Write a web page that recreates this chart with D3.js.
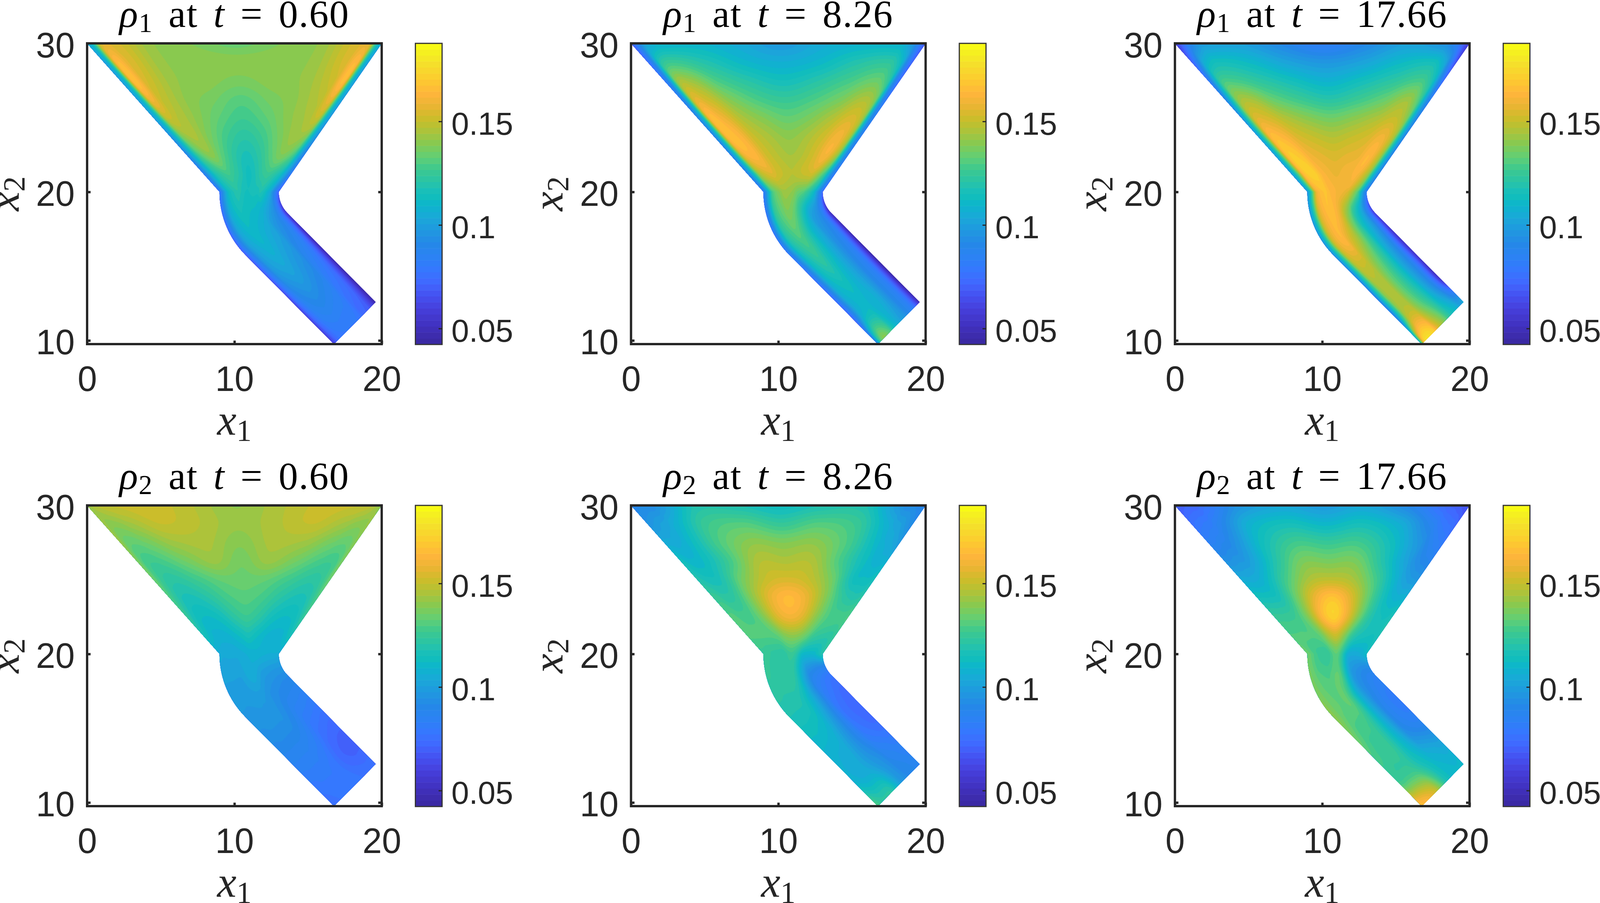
<!DOCTYPE html>
<html>
<head>
<meta charset="utf-8">
<script src="https://cdnjs.cloudflare.com/ajax/libs/d3/7.8.5/d3.min.js"></script>
<style>
  html, body { margin: 0; padding: 0; background: #fff; overflow: hidden; }
  svg { display: block; width: 100vw; height: 100vh; }
</style>
</head>
<body>
<svg id="chart" viewBox="0 0 4133 2312" preserveAspectRatio="none"></svg>
<script>
// Density, one row per station along the channel
// (funnel y = 30 .. 20, bend, straight outlet) and one column per position across it.
const stations = [0, .12, .25, .38, .5, .62, .75, .88, 1, 1.5, 2, 2.25, 2.5, 2.75, 3];
const wallDistance = [0, .25, .6, 1.2];
const innerFraction = [.15, .33, .5, .67, .85];

const rho1T060 = [
  [.105,.115,.152,.155,.142,.138,.134,.138,.142,.155,.154,.118,.105],
  [.100,.115,.162,.156,.142,.141,.140,.141,.142,.155,.162,.116,.100],
  [.100,.115,.165,.154,.142,.140,.137,.140,.142,.152,.164,.116,.100],
  [.100,.115,.158,.150,.141,.136,.131,.136,.141,.148,.156,.114,.100],
  [.100,.113,.148,.147,.140,.132,.127,.132,.140,.145,.148,.112,.098],
  [.095,.110,.138,.145,.137,.127,.122,.127,.137,.143,.138,.108,.095],
  [.090,.106,.128,.140,.132,.122,.117,.122,.132,.138,.128,.103,.088],
  [.085,.100,.118,.127,.124,.119,.114,.118,.124,.125,.115,.098,.082],
  [.078,.095,.112,.120,.118,.115,.115,.116,.116,.118,.105,.086,.072],
  [.074,.090,.105,.113,.113,.112,.111,.110,.108,.105,.095,.080,.062],
  [.070,.085,.100,.108,.110,.108,.106,.104,.102,.097,.089,.074,.055],
  [.068,.082,.097,.103,.104,.102,.100,.098,.096,.090,.083,.068,.050],
  [.064,.078,.090,.096,.097,.096,.094,.092,.090,.084,.077,.064,.048],
  [.062,.074,.084,.088,.088,.087,.086,.085,.083,.078,.073,.061,.046],
  [.060,.070,.078,.080,.080,.080,.080,.080,.078,.073,.069,.058,.046]
];
const rho1T826 = [
  [.070,.085,.100,.108,.110,.105,.098,.105,.109,.108,.095,.080,.068],
  [.075,.090,.118,.125,.119,.110,.106,.110,.119,.122,.110,.085,.072],
  [.080,.098,.140,.143,.129,.120,.115,.120,.128,.134,.122,.090,.075],
  [.085,.105,.153,.153,.139,.129,.125,.129,.137,.146,.136,.095,.080],
  [.090,.110,.162,.160,.146,.138,.133,.137,.146,.154,.143,.100,.085],
  [.090,.112,.162,.164,.151,.144,.140,.144,.152,.160,.145,.102,.085],
  [.090,.112,.156,.163,.153,.147,.144,.147,.154,.161,.142,.102,.085],
  [.088,.108,.144,.155,.152,.149,.147,.149,.151,.150,.127,.098,.082],
  [.082,.100,.128,.140,.143,.142,.140,.135,.132,.128,.112,.092,.075],
  [.080,.098,.122,.133,.136,.134,.128,.120,.112,.105,.095,.080,.060],
  [.080,.096,.116,.127,.128,.123,.117,.110,.105,.098,.089,.071,.052],
  [.078,.092,.111,.121,.120,.115,.111,.105,.100,.094,.084,.066,.048],
  [.075,.090,.107,.113,.113,.110,.107,.103,.098,.092,.082,.064,.046],
  [.074,.092,.108,.112,.110,.108,.107,.104,.098,.092,.082,.064,.046],
  [.090,.125,.140,.130,.118,.110,.105,.100,.097,.092,.082,.066,.050]
];
const rho1T1766 = [
  [.060,.070,.085,.098,.101,.091,.082,.091,.101,.094,.082,.068,.058],
  [.070,.085,.105,.114,.111,.101,.096,.101,.111,.114,.102,.080,.065],
  [.080,.100,.125,.128,.122,.114,.108,.114,.122,.128,.116,.092,.075],
  [.090,.110,.140,.145,.134,.126,.121,.126,.134,.143,.128,.100,.085],
  [.095,.118,.152,.154,.146,.139,.135,.139,.145,.150,.138,.105,.090],
  [.100,.122,.162,.163,.154,.149,.146,.149,.153,.159,.145,.110,.090],
  [.100,.122,.166,.169,.160,.156,.154,.156,.158,.164,.145,.110,.090],
  [.100,.122,.165,.171,.164,.160,.158,.160,.161,.162,.143,.108,.090],
  [.098,.120,.158,.168,.165,.163,.161,.160,.157,.152,.130,.100,.085],
  [.098,.118,.152,.165,.166,.162,.155,.145,.136,.125,.105,.085,.068],
  [.095,.118,.152,.163,.157,.151,.145,.136,.126,.115,.098,.078,.060],
  [.090,.115,.146,.149,.144,.138,.132,.125,.117,.107,.090,.070,.055],
  [.090,.115,.142,.145,.139,.132,.127,.120,.113,.104,.088,.070,.054],
  [.090,.118,.146,.149,.142,.135,.129,.123,.116,.107,.090,.072,.056],
  [.120,.170,.178,.172,.160,.150,.143,.135,.125,.118,.108,.100,.105]
];
const rho2T060 = [
  [.143,.145,.148,.150,.152,.147,.141,.146,.151,.150,.148,.144,.140],
  [.143,.140,.140,.143,.150,.147,.142,.146,.150,.143,.140,.140,.142],
  [.142,.135,.133,.135,.143,.145,.139,.145,.143,.135,.133,.135,.140],
  [.138,.130,.127,.128,.135,.142,.136,.142,.135,.128,.127,.130,.138],
  [.135,.128,.123,.122,.127,.133,.134,.133,.127,.122,.123,.128,.135],
  [.130,.124,.118,.117,.121,.128,.131,.128,.121,.117,.118,.124,.130],
  [.125,.118,.113,.112,.115,.122,.126,.122,.115,.112,.113,.118,.125],
  [.116,.112,.108,.108,.110,.113,.116,.113,.110,.108,.108,.112,.116],
  [.105,.104,.104,.104,.105,.106,.107,.108,.108,.107,.106,.106,.105],
  [.100,.100,.100,.100,.102,.104,.105,.103,.100,.099,.098,.098,.098],
  [.097,.097,.097,.098,.098,.098,.097,.095,.094,.093,.092,.092,.092],
  [.093,.093,.094,.094,.094,.094,.092,.090,.087,.085,.084,.083,.083],
  [.087,.087,.087,.087,.087,.086,.085,.083,.080,.077,.075,.074,.074],
  [.080,.080,.081,.081,.081,.080,.079,.077,.074,.072,.070,.070,.070],
  [.075,.076,.077,.078,.078,.079,.079,.079,.078,.077,.076,.076,.077]
];
const rho2T826 = [
  [.090,.091,.092,.095,.118,.118,.113,.118,.118,.095,.092,.090,.088],
  [.095,.097,.100,.105,.125,.130,.124,.130,.125,.105,.100,.095,.092],
  [.105,.105,.105,.110,.128,.140,.138,.140,.128,.110,.105,.102,.098],
  [.115,.112,.110,.113,.127,.146,.146,.146,.128,.113,.108,.108,.108],
  [.120,.118,.116,.118,.135,.150,.154,.150,.135,.115,.113,.113,.116],
  [.125,.125,.122,.125,.140,.158,.165,.158,.140,.125,.120,.120,.122],
  [.130,.130,.128,.130,.140,.155,.160,.155,.140,.130,.128,.128,.130],
  [.130,.130,.130,.130,.132,.138,.140,.138,.132,.125,.122,.122,.125],
  [.125,.125,.123,.122,.122,.125,.125,.120,.112,.110,.110,.115,.120],
  [.123,.123,.122,.122,.123,.122,.117,.108,.100,.093,.090,.090,.090],
  [.118,.118,.118,.118,.116,.112,.107,.100,.092,.085,.080,.078,.078],
  [.112,.112,.112,.110,.108,.103,.098,.092,.085,.078,.074,.072,.072],
  [.108,.107,.106,.105,.102,.098,.094,.090,.085,.080,.076,.074,.074],
  [.110,.108,.106,.105,.103,.100,.097,.095,.092,.088,.085,.083,.083],
  [.130,.125,.122,.122,.120,.113,.105,.098,.095,.092,.090,.088,.087]
];
const rho2T1766 = [
  [.068,.070,.072,.075,.095,.103,.098,.103,.090,.073,.070,.067,.065],
  [.075,.078,.080,.085,.107,.115,.110,.115,.105,.085,.078,.076,.072],
  [.085,.085,.088,.093,.113,.127,.125,.127,.113,.095,.086,.083,.080],
  [.095,.095,.097,.100,.118,.137,.137,.137,.118,.100,.092,.090,.088],
  [.105,.105,.105,.110,.127,.145,.149,.145,.127,.108,.100,.098,.097],
  [.115,.115,.115,.118,.135,.158,.168,.156,.133,.115,.108,.108,.108],
  [.125,.125,.125,.128,.140,.163,.172,.158,.135,.120,.115,.115,.118],
  [.130,.130,.130,.130,.134,.145,.150,.140,.125,.118,.115,.115,.118],
  [.135,.132,.127,.125,.125,.130,.132,.125,.112,.105,.105,.108,.112],
  [.137,.135,.132,.130,.132,.133,.130,.118,.105,.097,.093,.093,.095],
  [.140,.137,.133,.132,.133,.128,.118,.108,.100,.094,.088,.086,.086],
  [.135,.132,.128,.127,.125,.120,.113,.105,.098,.090,.084,.082,.082],
  [.128,.127,.125,.125,.123,.118,.112,.107,.100,.093,.088,.086,.086],
  [.128,.127,.127,.126,.124,.120,.116,.113,.110,.107,.104,.102,.102],
  [.168,.165,.162,.155,.150,.140,.130,.120,.115,.112,.110,.110,.112]
];

const fields = [rho1T060, rho1T826, rho1T1766, rho2T060, rho2T826, rho2T1766];
const species = ["1", "1", "1", "2", "2", "2"];
const times = ["0.60", "8.26", "17.66", "0.60", "8.26", "17.66"];

const xTicks = [0, 10, 20];
const yTicks = [10, 20, 30];
const barTicks = [0.05, 0.1, 0.15];
const clim = [0.0423, 0.1877];
const nLevels = 50;

// colours sampled from the colour bar, low to high
const mapPos = [0, .032, .076, .119, .161, .205, .248, .291, .335, .378, .421, .465, .486, .508,
  .538, .582, .625, .668, .712, .746, .79, .833, .885, .927, .97, 1];
const mapCol = ["#38289f", "#3d2cae", "#4234c6", "#4640dc", "#4550f0", "#4068ff", "#3578fe", "#2c82f4",
  "#2488e8", "#2098e0", "#1aa8d8", "#0db6cc", "#10bcbe", "#18bfba", "#28c3a8", "#3cc98f", "#64cf73",
  "#87c950", "#afc339", "#c8be2a", "#e8b532", "#ffb53c", "#fccd2e", "#f5de2c", "#f5f020", "#f9ff10"];

const colormap = d3.scaleLinear().domain(mapPos).range(mapCol);
const levels = d3.range(nLevels).map(i => clim[0] + (clim[1] - clim[0]) * i / nLevels);
const bandColor = i => colormap((i + .5) / nLevels);

const ink = "#262626";
const svg = d3.select("#chart");

const colOffset = 1405, rowOffset = 1183;
const axW = 761, axH = 770, axLeft = 225, axTop = 111;
const barLeft = 848, barW = 69;
const up = 16;

// channel walls: funnel, then arcs around (15,20), then straight outlet
function wall(s, r, x0, x1) {
  if (s <= 1) return [x0 + (x1 - x0) * s, 30 - 10 * s];
  const c = Math.SQRT1_2;
  if (s <= 2) {
    const a = (s - 1) * Math.PI / 4;
    return [15 - r * Math.cos(a), 20 - r * Math.sin(a)];
  }
  return [15 - r * c + 6 * (s - 2), 20 - r * c - 6 * (s - 2)];
}
const leftWall = s => wall(s, 6, 0, 9);
const rightWall = s => wall(s, 2, 20, 13);

// horizontal width of a wall-normal distance on the slanted funnel walls
const slant = (s, k) => s >= 1 ? 1 : 1 + k * Math.min(1, (1 - s) / .12);

function crossPositions(s) {
  const L = leftWall(s), R = rightWall(s);
  const width = Math.hypot(R[0] - L[0], R[1] - L[1]);
  const l = wallDistance.map(d => d * slant(s, .345) / width);
  const r = wallDistance.map(d => 1 - d * slant(s, .22) / width).reverse();
  const a = l[l.length - 1], b = r[0];
  return l.concat(innerFraction.map(f => a + (b - a) * f), r);
}

function toData(rowPos, colPos) {
  const i = Math.min(Math.floor(rowPos), stations.length - 2);
  const s = stations[i] + (stations[i + 1] - stations[i]) * (rowPos - i);
  const w = crossPositions(s);
  const j = Math.min(Math.floor(colPos), w.length - 2);
  const t = w[j] + (w[j + 1] - w[j]) * (colPos - j);
  const L = leftWall(s), R = rightWall(s);
  return [L[0] + (R[0] - L[0]) * t, L[1] + (R[1] - L[1]) * t];
}

function catmull(p, t) {
  const n = p.length;
  const i = Math.min(Math.floor(t), n - 2), f = t - i;
  const a = p[Math.max(i - 1, 0)], b = p[i], c = p[i + 1], d = p[Math.min(i + 2, n - 1)];
  return b + .5 * f * (c - a + f * (2 * a - 5 * b + 4 * c - d + f * (3 * (b - c) + d - a)));
}

function upsample(table) {
  const nr = (table.length - 1) * up + 1, nc = (table[0].length - 1) * up + 1;
  const byRow = d3.range(nr).map(k => table[0].map((_, c) => catmull(table.map(r => r[c]), k / up)));
  const values = new Float64Array(nr * nc);
  byRow.forEach((row, k) => {
    for (let c = 0; c < nc; c++) values[k * nc + c] = catmull(row, c / up);
  });
  return { values, nr, nc };
}

function mathText(g, x, y, size, parts) {
  const t = g.append("text").attr("x", x).attr("y", y)
    .attr("text-anchor", "middle")
    .attr("font-family", "'Liberation Serif', serif")
    .attr("font-size", size).attr("xml:space", "preserve");
  parts.forEach(p => {
    const s = t.append("tspan").text(p.text);
    if (p.italic) s.attr("font-style", "italic");
    if (p.sub) s.attr("font-size", size * .7).attr("dy", size * .13);
    if (p.after) s.attr("dy", -size * .13);
  });
  return t;
}

function drawPanel(table, i) {
  const col = i % 3, row = Math.floor(i / 3);
  const g = svg.append("g").attr("transform", `translate(${col * colOffset},${row * rowOffset})`);

  const x = d3.scaleLinear().domain([0, 20]).range([axLeft, axLeft + axW]);
  const y = d3.scaleLinear().domain([9.757, 30]).range([axTop + axH, axTop]);

  const xAxis = g.append("g").attr("transform", `translate(0,${axTop + axH})`)
    .call(d3.axisBottom(x).tickValues(xTicks).tickSize(-9).tickPadding(56).tickFormat(d => d));
  const yAxis = g.append("g").attr("transform", `translate(${axLeft},0)`)
    .call(d3.axisLeft(y).tickValues(yTicks).tickSize(-9).tickPadding(32).tickFormat(d => d));
  const yRight = g.append("g").attr("transform", `translate(${axLeft + axW},0)`)
    .call(d3.axisRight(y).tickValues(yTicks).tickSize(-9).tickFormat(""));
  [xAxis, yAxis, yRight].forEach(a => {
    a.select(".domain").remove();
    a.selectAll("line").attr("stroke", ink).attr("stroke-width", 6);
    a.selectAll("text").attr("fill", ink).attr("font-family", "'Liberation Sans', Arial, sans-serif").attr("font-size", 90);
  });
  yAxis.selectAll("text").attr("dy", ".39em");

  // filled contours of the upsampled table, painted low to high
  const { values, nr, nc } = upsample(table);
  const toScreen = d3.geoTransform({
    point(px, py) {
      const c = Math.max(0, Math.min(nc - 1, px - .5)) / up;
      const r = Math.max(0, Math.min(nr - 1, py - .5)) / up;
      const p = toData(r, c);
      this.stream.point(x(p[0]), y(p[1]));
    }
  });
  const path = d3.geoPath(toScreen);
  const contours = d3.contours().size([nc, nr]);
  const field = g.append("g");
  levels.forEach((lev, k) => {
    field.append("path")
      .attr("d", path(contours.contour(values, lev)))
      .attr("fill", bandColor(k))
      .attr("stroke", bandColor(k)).attr("stroke-width", .6);
  });

  g.append("rect").attr("x", axLeft).attr("y", axTop).attr("width", axW).attr("height", axH)
    .attr("fill", "none").attr("stroke", ink).attr("stroke-width", 6);

  // colour bar
  const barX = axLeft + barLeft;
  const c = d3.scaleLinear().domain(clim).range([axTop + axH + 1, axTop]);
  const step = (clim[1] - clim[0]) / nLevels;
  g.append("g").selectAll("rect").data(levels).join("rect")
    .attr("x", barX).attr("width", barW)
    .attr("y", d => c(d + step))
    .attr("height", d => c(d) - c(d + step) + .5)
    .attr("fill", (d, k) => bandColor(k));
  g.append("rect").attr("x", barX).attr("y", axTop).attr("width", barW).attr("height", axH + 1)
    .attr("fill", "none").attr("stroke", "#333").attr("stroke-width", 3);
  const barAxis = g.append("g").attr("transform", `translate(${barX + barW},0)`)
    .call(d3.axisRight(c).tickValues(barTicks).tickSize(-9).tickPadding(24).tickFormat(d => String(d)));
  barAxis.select(".domain").remove();
  barAxis.selectAll("line").attr("stroke", ink).attr("stroke-width", 3);
  barAxis.selectAll("text").attr("fill", ink).attr("dy", ".41em")
    .attr("font-family", "'Liberation Sans', Arial, sans-serif").attr("font-size", 82);

  // labels
  const midX = axLeft + axW / 2;
  mathText(g, midX, 69, 100, [
    { text: "\u03c1", italic: true }, { text: species[i], sub: true },
    { text: " at ", after: true }, { text: "t", italic: true }, { text: " = " + times[i] }
  ]).attr("fill", "#000").attr("letter-spacing", 2).attr("word-spacing", 13);
  mathText(g, midX, 1113, 112, [{ text: "x", italic: true }, { text: "1", sub: true }]).attr("fill", ink);
  const ly = g.append("g").attr("transform", `translate(48,${axTop + axH / 2}) rotate(-90)`);
  mathText(ly, 0, 0, 112, [{ text: "x", italic: true }, { text: "2", sub: true }]).attr("fill", ink);
}

fields.forEach(drawPanel);
</script>
</body>
</html>
